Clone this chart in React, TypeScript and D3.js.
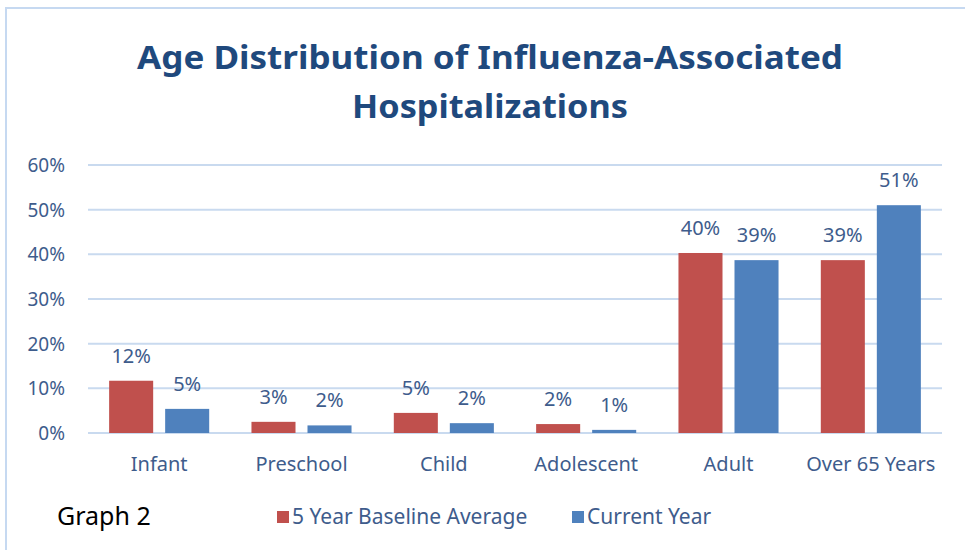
import * as d3 from "d3";
import React, { useEffect, useRef } from "react";

const categories = ["Infant", "Preschool", "Child", "Adolescent", "Adult", "Over 65 Years"];
const seriesNames = ["5 Year Baseline Average", "Current Year"];
const baseline = [0.117, 0.025, 0.045, 0.02, 0.403, 0.387];
const current = [0.054, 0.017, 0.022, 0.007, 0.387, 0.51];
const baselineLabels = ["12%", "3%", "5%", "2%", "40%", "39%"];
const currentLabels = ["5%", "2%", "2%", "1%", "39%", "51%"];
const yTicks = [0, 0.1, 0.2, 0.3, 0.4, 0.5, 0.6];

const colors = ["#C0504D", "#4F81BD"];
const textColor = "#3E5C8C";
const font = "'Noto Sans', 'Open Sans', sans-serif";

export default function App() {
  const ref = useRef<SVGSVGElement>(null);

  useEffect(() => {
    const width = 965,
      height = 550;
    const svg = d3.select(ref.current);
    svg.selectAll("*").remove();

    const x0 = d3
      .scaleBand()
      .domain(categories)
      .range([88, 942])
      .paddingInner(0.297)
      .paddingOuter(0.1485);
    const x1 = d3
      .scaleBand()
      .domain(seriesNames)
      .range([0, x0.bandwidth()])
      .paddingInner(0.214);
    const y = d3.scaleLinear().domain([0, 0.6]).range([433, 165]);

    svg.append("rect").attr("width", width).attr("height", height).attr("fill", "#fff");

    // frame (cropped at right/bottom)
    svg
      .append("rect")
      .attr("x", 6)
      .attr("y", 8)
      .attr("width", 980)
      .attr("height", 580)
      .attr("fill", "none")
      .attr("stroke", "#C6D9F1")
      .attr("stroke-width", 2);

    // title
    const title = svg
      .append("g")
      .attr("font-family", font)
      .attr("font-weight", "bold")
      .attr("fill", "#1F497D")
      .attr("font-size", 33)
      .attr("text-anchor", "middle");
    title
      .append("text")
      .attr("x", 490)
      .attr("y", 69)
      .attr("textLength", 706)
      .attr("lengthAdjust", "spacingAndGlyphs")
      .text("Age Distribution of Influenza-Associated");
    title
      .append("text")
      .attr("x", 490)
      .attr("y", 118)
      .attr("textLength", 276)
      .attr("lengthAdjust", "spacingAndGlyphs")
      .text("Hospitalizations");

    // grid + y ticks
    svg
      .append("g")
      .selectAll("line")
      .data(yTicks)
      .join("line")
      .attr("x1", 88)
      .attr("x2", 942)
      .attr("y1", (d) => y(d))
      .attr("y2", (d) => y(d))
      .attr("stroke", "#C9DAEF")
      .attr("stroke-width", 2);

    svg
      .append("g")
      .selectAll("text")
      .data(yTicks)
      .join("text")
      .attr("x", 65)
      .attr("y", (d) => y(d) + 7)
      .attr("text-anchor", "end")
      .attr("font-family", font)
      .attr("font-size", 19)
      .attr("fill", textColor)
      .text((d) => d3.format(".0%")(d));

    // bars
    const data = categories.map((c, i) => ({
      cat: c,
      vals: [
        { s: seriesNames[0], v: baseline[i], label: baselineLabels[i], k: 0 },
        { s: seriesNames[1], v: current[i], label: currentLabels[i], k: 1 },
      ],
    }));

    const groups = svg
      .append("g")
      .selectAll("g")
      .data(data)
      .join("g")
      .attr("transform", (d) => `translate(${x0(d.cat)},0)`);

    groups
      .selectAll("rect")
      .data((d) => d.vals)
      .join("rect")
      .attr("x", (d) => x1(d.s)!)
      .attr("width", x1.bandwidth())
      .attr("y", (d) => y(d.v))
      .attr("height", (d) => y(0) - y(d.v))
      .attr("fill", (d) => colors[d.k]);

    groups
      .selectAll("text")
      .data((d) => d.vals)
      .join("text")
      .attr("x", (d) => x1(d.s)! + x1.bandwidth() / 2)
      .attr("y", (d) => y(d.v) - 18)
      .attr("text-anchor", "middle")
      .attr("font-family", font)
      .attr("font-size", 20)
      .attr("fill", textColor)
      .text((d) => d.label);

    // category labels
    svg
      .append("g")
      .selectAll("text")
      .data(categories)
      .join("text")
      .attr("x", (d) => x0(d)! + x0.bandwidth() / 2)
      .attr("y", 471)
      .attr("text-anchor", "middle")
      .attr("font-family", font)
      .attr("font-size", 20)
      .attr("fill", textColor)
      .text((d) => d);

    // legend
    const legendX = [277, 572];
    const legend = svg
      .append("g")
      .selectAll("g")
      .data(seriesNames)
      .join("g")
      .attr("transform", (d, i) => `translate(${legendX[i]},511)`);
    legend
      .append("rect")
      .attr("width", 12)
      .attr("height", 12)
      .attr("fill", (d, i) => colors[i]);
    legend
      .append("text")
      .attr("x", 15)
      .attr("y", 13)
      .attr("font-family", font)
      .attr("font-size", 21)
      .attr("fill", textColor)
      .text((d) => d);

    svg
      .append("text")
      .attr("x", 57)
      .attr("y", 525)
      .attr("font-family", font)
      .attr("font-size", 25)
      .attr("fill", "#000")
      .text("Graph 2");
  }, []);

  return (
    <svg
      ref={ref}
      width={965}
      height={550}
      style={{ position: "absolute", left: 0, top: 0, display: "block" }}
    />
  );
}
